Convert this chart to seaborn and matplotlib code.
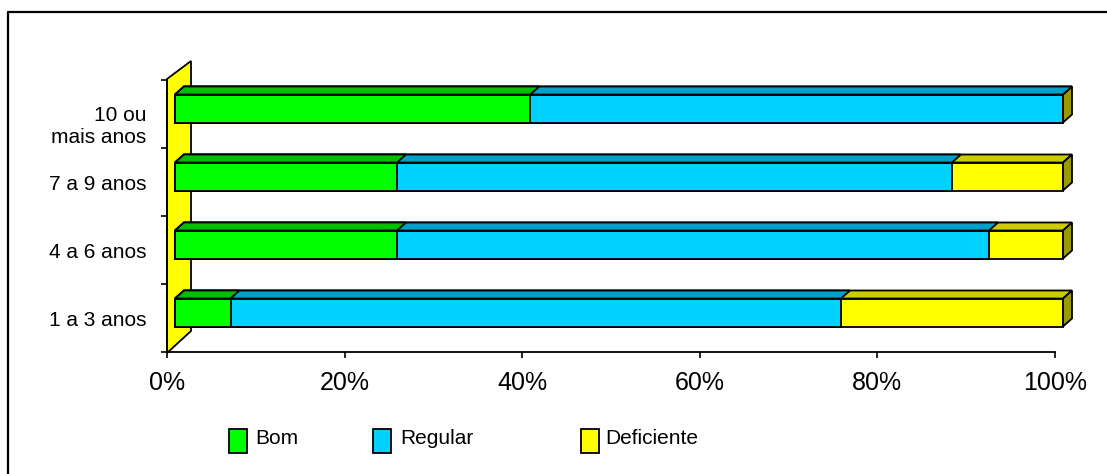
import numpy as np
import pandas as pd
import matplotlib
matplotlib.use("Agg")
import matplotlib.pyplot as plt
import seaborn as sns
from matplotlib.patches import Polygon, Rectangle
from matplotlib.transforms import ScaledTranslation
from matplotlib.lines import Line2D

# ---------------- data ----------------
categorias = ["10 ou\nmais anos", "7 a 9 anos", "4 a 6 anos", "1 a 3 anos"]
bom = [40.0, 25.0, 25.0, 6.25]
regular = [60.0, 62.5, 66.67, 68.75]
deficiente = [0.0, 12.5, 8.33, 25.0]
series = ["Bom", "Regular", "Deficiente"]
xticks = [0, 20, 40, 60, 80, 100]

# ---------------- style ----------------
sns.set_theme(style="white")
plt.rcParams["font.family"] = ["Liberation Sans", "DejaVu Sans"]

front = {"Bom": "#00FF00", "Regular": "#00D2FF", "Deficiente": "#FFFF00"}
topc = {"Bom": "#00C000", "Regular": "#00A0C8", "Deficiente": "#CCCC00"}
sidec = "#999900"

W, H = 1107, 474
fig = plt.figure(figsize=(W / 100, H / 100), dpi=100)
fig.patch.set_facecolor("white")

x0px, x1px, ytop, ybot = 167, 1055, 80, 352
ax = fig.add_axes([x0px / W, 1 - ybot / H, (x1px - x0px) / W, (ybot - ytop) / H])
ax.set_facecolor("none")

def fpt(px, py):
    return (px / W, 1 - py / H)

# back wall (yellow)
wall = Polygon([fpt(167, 353), fpt(167, 79), fpt(191, 61), fpt(191, 331)],
               closed=True, facecolor="#FFFF00", edgecolor="black", lw=1.3,
               transform=fig.transFigure, clip_on=False, zorder=0.5)
ax.add_patch(wall)

df = pd.DataFrame({"faixa": categorias, "Bom": bom, "Regular": regular, "Deficiente": deficiente})
cum = {
    "Deficiente": df["Bom"] + df["Regular"] + df["Deficiente"],
    "Regular": df["Bom"] + df["Regular"],
    "Bom": df["Bom"],
}

bar_w = 28 / 68
patches_by = {}
for s in ["Deficiente", "Regular", "Bom"]:
    n0 = len(ax.patches)
    sns.barplot(x=cum[s].values, y=df["faixa"], order=categorias, orient="h",
                color=front[s], saturation=1, width=bar_w, edgecolor="black",
                linewidth=1.3, errorbar=None, ax=ax, zorder=2)
    patches_by[s] = [p for p in ax.patches[n0:] if isinstance(p, Rectangle)]

ax.set_xlim(0, 100)
ax.set_ylim(3.5, -0.5)

shift = ScaledTranslation(8 / 100, 5.5 / 100, fig.dpi_scale_trans)
tr = ax.transData + shift
ddx = 9 * 100 / (x1px - x0px)
ddy = 8 / 68

for s in ["Deficiente", "Regular", "Bom"]:
    for p in patches_by[s]:
        p.set_transform(tr)
        p.set_clip_on(False)
        xa, ya, w, h = p.get_x(), p.get_y(), p.get_width(), p.get_height()
        xb = xa + w
        top = Polygon([(xa, ya), (xb, ya), (xb + ddx, ya - ddy), (xa + ddx, ya - ddy)],
                      closed=True, facecolor=topc[s], edgecolor="black", lw=1.3,
                      transform=tr, clip_on=False, zorder=2)
        ax.add_patch(top)
        if s == "Deficiente":
            side = Polygon([(xb, ya), (xb + ddx, ya - ddy), (xb + ddx, ya + h - ddy), (xb, ya + h)],
                           closed=True, facecolor=sidec, edgecolor="black", lw=1.3,
                           transform=tr, clip_on=False, zorder=2)
            ax.add_patch(side)

# axes styling
for sp in ["top", "right"]:
    ax.spines[sp].set_visible(False)
for sp in ["left", "bottom"]:
    ax.spines[sp].set_color("black")
    ax.spines[sp].set_linewidth(1.3)
    ax.spines[sp].set_zorder(3)

ax.set_xticks(xticks)
ax.set_xticklabels([f"{v}%" for v in xticks])
ax.tick_params(axis="x", direction="out", length=4, width=1.2, colors="black",
               labelsize=18, pad=10, bottom=True)
ax.set_yticks(range(len(categorias)))
ax.set_yticklabels(categorias)
ax.set_yticks(np.arange(-0.5, len(categorias), 1.0), minor=True)
ax.tick_params(axis="y", which="major", length=0, labelsize=15, pad=15, colors="black")
ax.tick_params(axis="y", which="minor", direction="out", length=4, width=1.2,
               color="black", left=True)
ax.set_xlabel("")
ax.set_ylabel("")
for lab in ax.get_yticklabels():
    lab.set_multialignment("right")
    if "\n" in lab.get_text():
        lab.set_transform(lab.get_transform() + ScaledTranslation(0, -9 / 100, fig.dpi_scale_trans))

# legend (manual)
leg = [("Bom", 229, 255), ("Regular", 373, 400), ("Deficiente", 581, 605)]
for name, bx, tx in leg:
    fx, fy = fpt(bx, 453)
    fig.add_artist(Rectangle((fx, fy), 18 / W, 24 / H, transform=fig.transFigure,
                             facecolor=front[name], edgecolor="black", lw=1.3))
    tx_, ty_ = fpt(tx, 438)
    fig.text(tx_, ty_, name, fontsize=15, ha="left", va="center", color="black")

# outer frame (top and left only)
fig.add_artist(Line2D([8 / W, 1], [1 - 12 / H, 1 - 12 / H], transform=fig.transFigure,
                      color="black", lw=1.6))
fig.add_artist(Line2D([8 / W, 8 / W], [0, 1 - 12 / H], transform=fig.transFigure,
                      color="black", lw=1.6))

fig.savefig("out.png", dpi=100, facecolor="white")
